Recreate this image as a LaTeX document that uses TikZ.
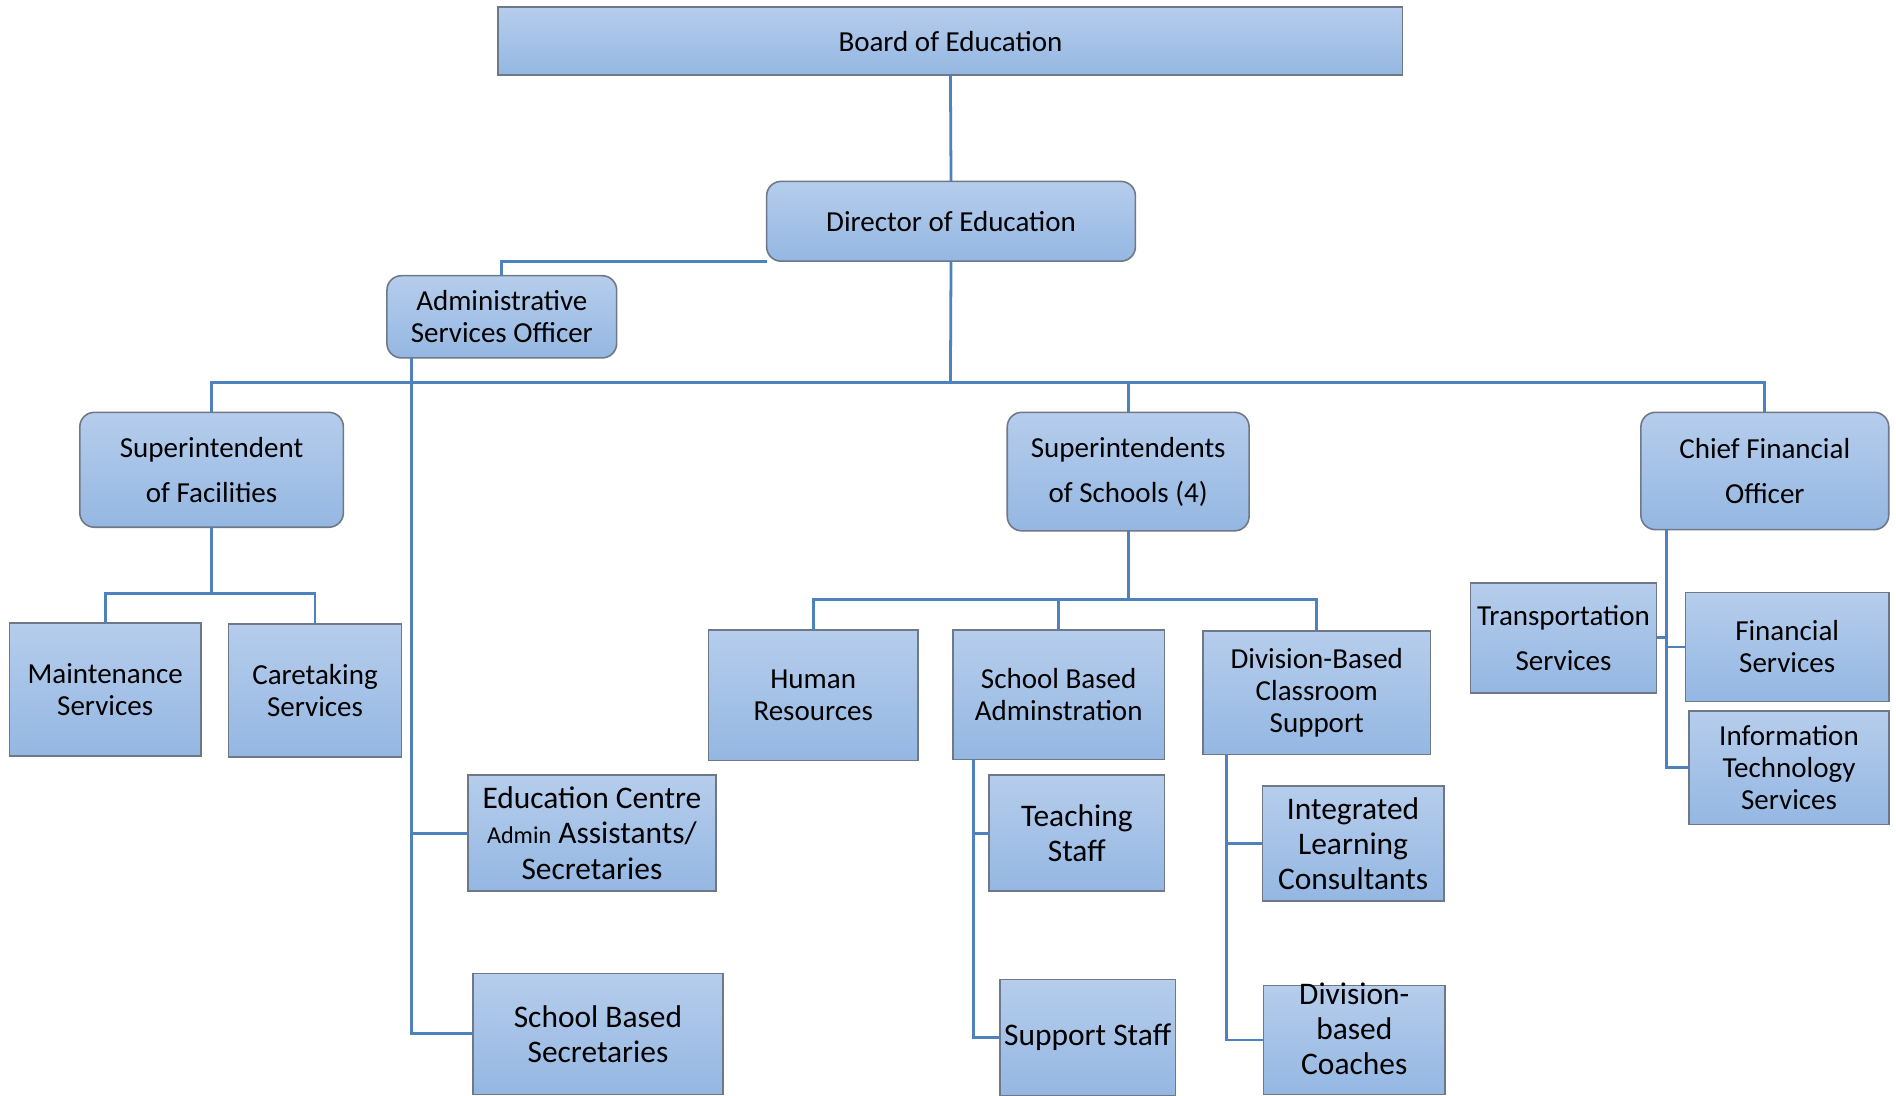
\documentclass[tikz,border=0pt]{standalone}
\usepackage{fontspec}
\setmainfont{Carlito}
\definecolor{boxtop}{RGB}{182,205,236}
\definecolor{boxbot}{RGB}{148,183,226}
\definecolor{bordergray}{RGB}{110,120,134}
\definecolor{linkblue}{RGB}{79,129,189}
\newcommand\fsA{\fontsize{24}{26.5}\selectfont}
\newcommand\fsB{\fontsize{26}{29}\selectfont}
\newcommand\fsC{\fontsize{24}{37}\selectfont}
\newcommand\fsSm{\fontsize{20}{29}\selectfont}
\tikzset{
  sq/.style={draw=bordergray, line width=1.3pt, top color=boxtop, bottom color=boxbot,
    inner sep=0pt, outer sep=0pt, align=center, font=\fsA},
  rnd/.style={sq, rounded corners=12pt},
  big/.style={font=\fsB},
  tall/.style={font=\fsC},
  conn/.style={draw=linkblue, line width=2.3pt},
  bx/.style 2 args={minimum width=#1pt, minimum height=#2pt}
}
\begin{document}
\begin{tikzpicture}[x=1pt,y=-1pt]
\useasboundingbox (0,0) rectangle (1568,906);
\coordinate (bus) at (786,316);
\coordinate (asoL) at (340,296);
\coordinate (facB) at (175,491);
\coordinate (sosB) at (933,496);
\coordinate (sbaL) at (805,628);
\coordinate (dbcL) at (1014,624);
\coordinate (cfoL) at (1378,438);

% boxes
\node[sq, bx={748}{56}] (board) at (786,34) {Board of Education};
\node[rnd, bx={305}{66}] (dir) at (786.5,183) {Director of Education};
\node[rnd, bx={190}{68}] (aso) at (415,262) {Administrative\\Services Officer};
\node[rnd, tall, bx={218}{95}] (fac) at (175,388.5) {Superintendent\\of Facilities};
\node[rnd, tall, bx={200}{98}] (sos) at (933,390) {Superintendents\\of Schools (4)};
\node[rnd, tall, bx={205}{97}] (cfo) at (1459.5,389.5) {Chief Financial\\Officer};
\node[sq, bx={158}{110}] (maint) at (87,570) {Maintenance\\Services};
\node[sq, bx={143}{110}] (care) at (260.5,571) {Caretaking\\Services};
\node[sq, bx={173}{108}] (hr) at (672.5,575) {Human\\Resources};
\node[sq, bx={175}{107}] (sba) at (875.5,574.5) {School Based\\Adminstration};
\node[sq, bx={188}{102}] (dbc) at (1089,573) {Division-Based\\Classroom\\Support};
\node[sq, tall, bx={154}{91}] (trans) at (1293,527.5) {Transportation\\Services};
\node[sq, bx={168}{90}] (fin) at (1478,535) {Financial\\Services};
\node[sq, bx={165}{94}] (its) at (1479.5,635) {Information\\Technology\\Services};
\node[sq, big, bx={205}{96}] (ecs) at (489.5,689) {Education Centre\\{\fsSm Admin} Assistants/\\Secretaries};
\node[sq, big, bx={207}{100}] (ssec) at (494.5,855) {School Based\\Secretaries};
\node[sq, big, bx={145}{96}] (teach) at (890.5,689) {Teaching\\Staff};
\node[sq, big, bx={145}{96}] (supp) at (899.5,858) {Support Staff};
\node[sq, big, bx={150}{95}] (ilc) at (1119,697.5) {Integrated\\Learning\\Consultants};
\node[sq, big, bx={150}{90}] (dbco) at (1120,860) {\raisebox{0pt}[0pt][0pt]{\begin{tabular}{@{}c@{}}Division-\\based\\Coaches\end{tabular}}};

% connectors
\draw[conn] (board.south) -- (dir.north);
\draw[conn] (dir.south west) -| (aso.north);
\draw[conn] (dir.south) -- (bus);
\draw[conn] (fac.north) |- (bus);
\draw[conn] (bus) -| (cfo.north);
\draw[conn] (sos.north) |- (bus);
\draw[conn] (asoL) |- (ecs.west);
\draw[conn] (asoL) |- (ssec.west);
\draw[conn] (fac.south) -- (facB);
\draw[conn] (facB) -| (maint.north);
\draw[conn] (facB) -| (care.north);
\draw[conn] (sos.south) -- (sosB);
\draw[conn] (sosB) -| (hr.north);
\draw[conn] (sosB) -| (sba.north);
\draw[conn] (sosB) -| (dbc.north);
\draw[conn] (sbaL) |- (teach.west);
\draw[conn] (sbaL) |- (supp.west);
\draw[conn] (dbcL) |- (ilc.west);
\draw[conn] (dbcL) |- (dbco.west);
\draw[conn] (cfoL) |- (trans.east);
\draw[conn] (cfoL) |- (fin.west);
\draw[conn] (cfoL) |- (its.west);
\end{tikzpicture}
\end{document}
